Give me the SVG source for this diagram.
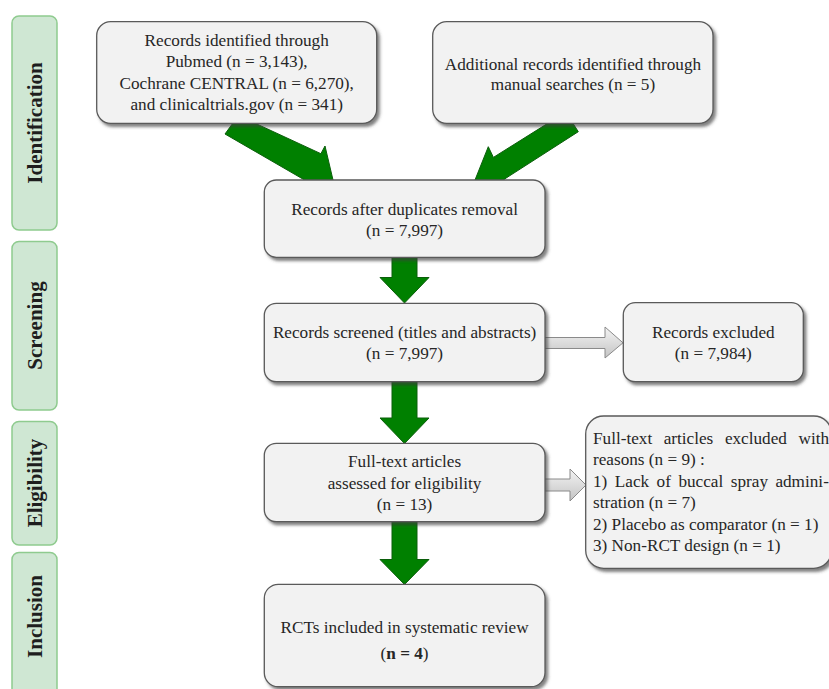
<svg xmlns="http://www.w3.org/2000/svg" width="829" height="689" viewBox="0 0 829 689">
<style>
.lane{fill:#cfe7d3;stroke:#8fcb8f;stroke-width:1.5}
.lanet{font-family:"Liberation Serif","Times New Roman",serif;font-weight:bold;font-size:21px;fill:#1e1e1e;text-anchor:middle}
.box{fill:#f2f2f2;stroke:#5a5a5a;stroke-width:1.3;filter:url(#sh)}
.t{font-family:"Liberation Serif","Times New Roman",serif;font-size:17.2px;fill:#262626;text-anchor:middle}
.tl{font-family:"Liberation Serif","Times New Roman",serif;font-size:17.2px;fill:#262626}
.ga{fill:#008000;stroke:#0b5e0b;stroke-width:1}
.gr{fill:url(#gg);stroke:#8a8a8a;stroke-width:1}
</style>
<defs>
<filter id="sh" x="-10%" y="-10%" width="125%" height="130%">
<feDropShadow dx="2.5" dy="3" stdDeviation="1.8" flood-color="#404040" flood-opacity="0.65"/>
</filter>
<linearGradient id="gg" x1="0" y1="0" x2="0" y2="1">
<stop offset="0" stop-color="#f4f4f4"/>
<stop offset="1" stop-color="#c4c4c4"/>
</linearGradient>
</defs>
<rect width="829" height="689" fill="#ffffff"/>

<g id="lane-identification">
<rect class="lane" x="12" y="16" width="45" height="214" rx="7"/>
<text class="lanet" transform="translate(41.5,123) rotate(-90)">Identification</text>
</g>
<g id="lane-screening">
<rect class="lane" x="12" y="241.5" width="45" height="168.5" rx="7"/>
<text class="lanet" transform="translate(41.5,325.5) rotate(-90)">Screening</text>
</g>
<g id="lane-eligibility">
<rect class="lane" x="12" y="421.5" width="45" height="123.5" rx="7"/>
<text class="lanet" transform="translate(41.5,483) rotate(-90)">Eligibility</text>
</g>
<g id="lane-inclusion">
<rect class="lane" x="12" y="552.5" width="45" height="150" rx="7"/>
<text class="lanet" transform="translate(41.5,616.5) rotate(-90)">Inclusion</text>
</g>

<g id="connectors">
<polygon class="ga" points="238.4,115.5 225,134 306.3,181 302,189 333,180 325,146 320.9,153.7"/>
<polygon class="ga" points="565.7,112.1 578.3,131.7 504,179.4 508.3,188.3 475,180 488.3,146.7 493.4,157.4"/>
<polygon class="ga" points="392,254 417,254 417,277.5 429,277.5 404.5,303 380,277.5 392,277.5"/>
<polygon class="ga" points="392,378 417,378 417,418 429,418 404.5,443.5 380,418 392,418"/>
<polygon class="ga" points="392,518 417,518 417,559.5 429,559.5 404.5,584.5 380,559.5 392,559.5"/>
<polygon class="gr" points="541,337.5 605,337.5 605,327 623,342.8 605,358 605,348.5 541,348.5"/>
<polygon class="gr" points="541,479 570,479 570,469 586,485 570,501 570,491 541,491"/>
</g>

<g id="node-records-identified">
<rect class="box" x="96.7" y="21.7" width="280" height="101.6" rx="14"/>
<text class="t" x="236.7" y="46">Records identified through</text>
<text class="t" x="236.7" y="67.3">Pubmed (n = 3,143),</text>
<text class="t" x="236.7" y="88.6">Cochrane CENTRAL (n = 6,270),</text>
<text class="t" x="236.7" y="110">and clinicaltrials.gov (n = 341)</text>
</g>
<g id="node-additional-records">
<rect class="box" x="432.7" y="21.7" width="280.3" height="101.6" rx="14"/>
<text class="t" x="573" y="69.5">Additional records identified through</text>
<text class="t" x="573" y="90.3">manual searches (n = 5)</text>
</g>
<g id="node-after-duplicates">
<rect class="box" x="264.3" y="180" width="280.7" height="77.3" rx="12"/>
<text class="t" x="404.6" y="214.5">Records after duplicates removal</text>
<text class="t" x="404.6" y="235.8">(n = 7,997)</text>
</g>
<g id="node-screened">
<rect class="box" x="264.3" y="303.3" width="280.7" height="78.4" rx="12"/>
<text class="t" x="404.6" y="337.8">Records screened (titles and abstracts)</text>
<text class="t" x="404.6" y="359">(n = 7,997)</text>
</g>
<g id="node-excluded">
<rect class="box" x="623.3" y="302.7" width="180" height="79" rx="12"/>
<text class="t" x="713.3" y="337.8">Records excluded</text>
<text class="t" x="713.3" y="359">(n = 7,984)</text>
</g>
<g id="node-fulltext">
<rect class="box" x="264.3" y="443.3" width="280.7" height="78.4" rx="12"/>
<text class="t" x="404.6" y="467.2">Full-text articles</text>
<text class="t" x="404.6" y="488.5">assessed for eligibility</text>
<text class="t" x="404.6" y="509.8">(n = 13)</text>
</g>
<g id="node-fulltext-excluded">
<rect class="box" x="585.7" y="416" width="246" height="152.3" rx="18"/>
<text class="tl" y="443.5"><tspan x="593">Full-text</tspan><tspan x="663.7">articles</tspan><tspan x="724.9">excluded</tspan><tspan x="798.5">with</tspan></text>
<text class="tl" x="593" y="465.2">reasons (n = 9) :</text>
<text class="tl" y="486.7"><tspan x="593">1)</tspan><tspan x="614.8">Lack</tspan><tspan x="656.6">of</tspan><tspan x="678.4">buccal</tspan><tspan x="730.8">spray</tspan><tspan x="775.4">admini-</tspan></text>
<text class="tl" x="593" y="508.2">stration (n = 7)</text>
<text class="tl" x="593" y="529.7">2) Placebo as comparator (n = 1)</text>
<text class="tl" x="593" y="551.2">3) Non-RCT design (n = 1)</text>
</g>
<g id="node-included">
<rect class="box" x="264.3" y="584.3" width="280.7" height="102.4" rx="14"/>
<text class="t" x="404.6" y="633">RCTs included in systematic review</text>
<text class="t" x="404.6" y="659">(<tspan font-weight="bold">n = 4</tspan>)</text>
</g>
</svg>
